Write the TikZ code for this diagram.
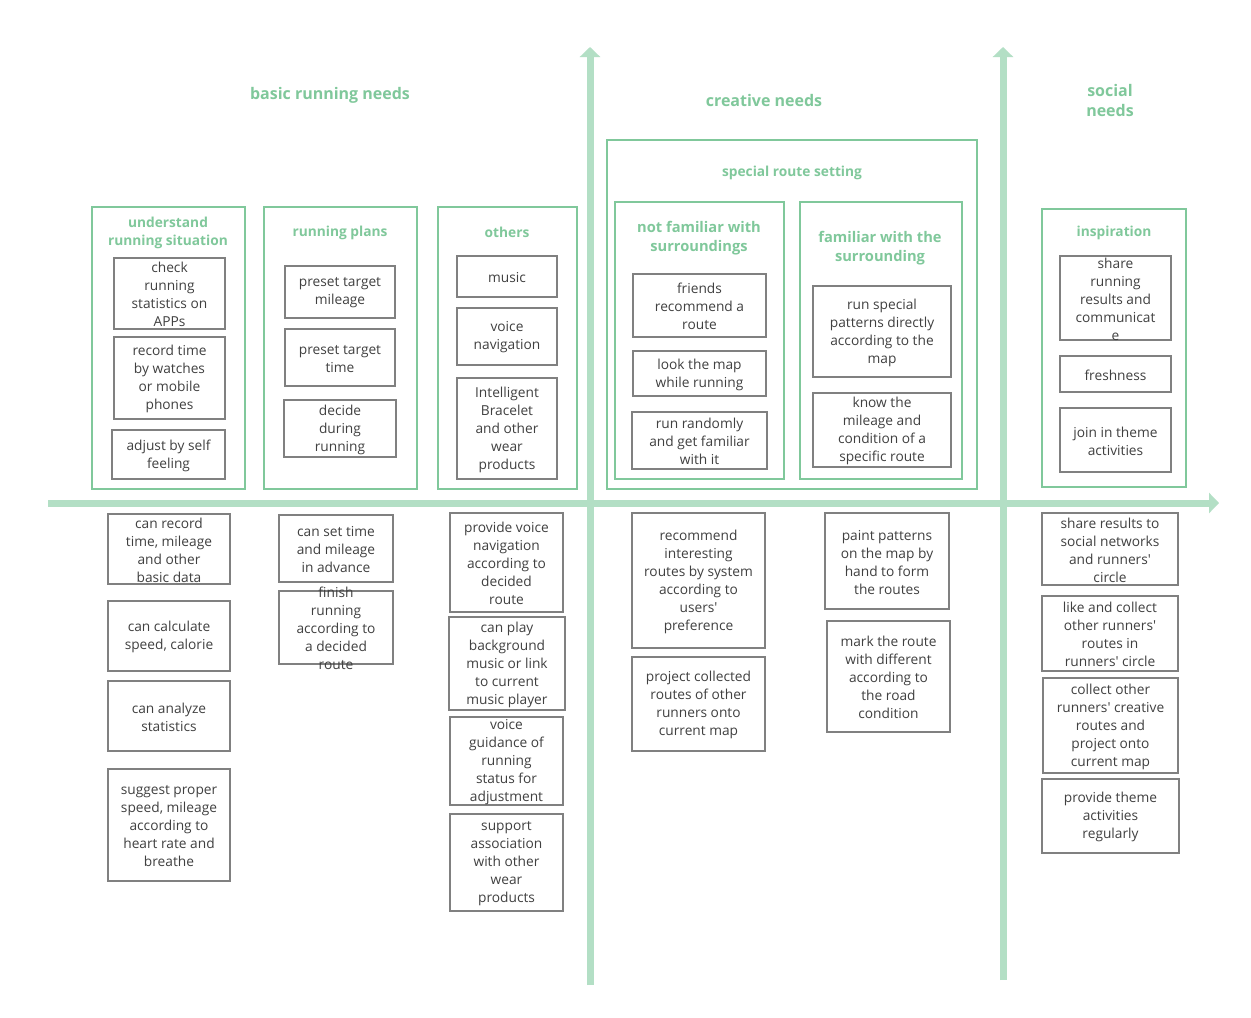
\documentclass[tikz,border=0pt]{standalone}
\usepackage{fontspec}
\setmainfont{Open Sans}
\usetikzlibrary{arrows.meta}
\definecolor{axisgreen}{RGB}{179,223,197}
\definecolor{titlegreen}{RGB}{128,200,155}
\definecolor{boxgreen}{RGB}{128,200,155}
\definecolor{boxgray}{RGB}{128,128,128}
\definecolor{txtgray}{RGB}{64,64,64}
\newcommand{\qs}{\textquotesingle}
\tikzset{
  axisline/.style={draw=axisgreen,line width=5.25pt,-{Triangle[width=15pt,length=7.5pt]}},
  grpbox/.style={draw=boxgreen,line width=1.4pt,inner sep=0pt,outer sep=0pt},
  graybox/.style={draw=boxgray,line width=1.1pt,inner sep=0pt,outer sep=0pt,fill=white},
  bodytxt/.style={text=txtgray,align=center,inner sep=0pt,yshift=-0.8pt,font=\fontsize{10.3}{13.5}\selectfont},
  sectitle/.style={text=titlegreen,align=center,inner sep=0pt,yshift=-1.2pt,font=\fontsize{12}{15}\selectfont\bfseries},
  grptitle/.style={text=titlegreen,align=center,inner sep=0pt,yshift=-1.2pt,font=\fontsize{10.3}{13.5}\selectfont\bfseries},
  subtitle/.style={text=titlegreen,align=center,inner sep=0pt,yshift=-1.2pt,font=\fontsize{11}{14.2}\selectfont\bfseries}
}
\newcommand{\gb}[6]{\node[graybox,minimum width={(#4-#2)*0.75pt},minimum height={(#5-#3)*0.75pt}] (#1) at ({(#2+#4)/2},{(#3+#5)/2}) {};
  \node[bodytxt] (#1-t) at (#1.center) {#6};}
\newcommand{\grp}[5]{\node[grpbox,minimum width={(#4-#2)*0.75pt},minimum height={(#5-#3)*0.75pt}] (#1) at ({(#2+#4)/2},{(#3+#5)/2}) {};}
\begin{document}
\begin{tikzpicture}[x=0.75pt,y=-0.75pt]
\useasboundingbox[fill=white] (0,0) rectangle (1251,1017);
% axes
\coordinate (hx0) at (48,503);
\coordinate (hx1) at (1219,503);
\coordinate (va0) at (590,985);
\coordinate (va1) at (590,47);
\coordinate (vb0) at (1003,980);
\coordinate (vb1) at (1003,47);
\draw[axisline] (hx0) -- (hx1);
\draw[axisline] (va0) -- (va1);
\draw[axisline] (vb0) -- (vb1);
% section titles
\node[sectitle] (t-basic) at (330,94) {basic running needs};
\node[sectitle] (t-creative) at (764,99) {creative needs};
\node[sectitle] (t-social) at (1110,99) {social\\needs};
% group boxes
\grp{G1}{92}{207}{245}{489}
\grp{G2}{264}{207}{417}{489}
\grp{G3}{438}{207}{577}{489}
\grp{G4}{607}{140}{977}{489}
\grp{G5}{615}{202}{784}{479}
\grp{G6}{800}{202}{962}{479}
\grp{G7}{1042}{209}{1186}{487}
\node[grptitle] (G1-t) at (168,231) {understand\\running situation};
\node[grptitle] (G2-t) at (340,231) {running plans};
\node[grptitle] (G3-t) at (507,231) {others};
\node[grptitle] (G4-t) at (792,171) {special route setting};
\node[subtitle] (G5-t) at (699,236.5) {not familiar with\\surroundings};
\node[subtitle] (G6-t) at (880,246.5) {familiar with the\\surrounding};
\node[grptitle] (G7-t) at (1114,231) {inspiration};
% top boxes
\gb{u1}{114}{258}{225}{329}{check\\running\\statistics on\\APPs}
\gb{u2}{114}{337}{225}{419}{record time\\by watches\\or mobile\\phones}
\gb{u3}{112}{430}{225}{479}{adjust by self\\feeling}
\gb{p1}{285}{266}{395}{318}{preset target\\mileage}
\gb{p2}{285}{329}{395}{386}{preset target\\time}
\gb{p3}{284}{400}{396}{457}{decide\\during\\running}
\gb{o1}{457}{256}{557}{297}{music}
\gb{o2}{457}{308}{557}{365}{voice\\navigation}
\gb{o3}{457}{378}{557}{479}{Intelligent\\Bracelet\\and other\\wear\\products}
\gb{n1}{633}{274}{766}{337}{friends\\recommend a\\route}
\gb{n2}{633}{351}{766}{396}{look the map\\while running}
\gb{n3}{632}{412}{767}{469}{run randomly\\and get familiar\\with it}
\gb{f1}{813}{286}{951}{377}{run special\\patterns directly\\according to the\\map}
\gb{f2}{813}{393}{951}{467}{know the\\mileage and\\condition of a\\specific route}
\gb{i1}{1060}{256}{1171}{340}{share\\running\\results and\\communicat\\e}
\gb{i2}{1060}{356}{1171}{392}{freshness}
\gb{i3}{1060}{408}{1171}{472}{join in theme\\activities}
% bottom boxes
\gb{b1}{108}{514}{230}{584}{can record\\time, mileage\\and other\\basic data}
\gb{b2}{108}{601}{230}{671}{can calculate\\speed, calorie}
\gb{b3}{108}{681}{230}{751}{can analyze\\statistics}
\gb{b4}{108}{769}{230}{881}{suggest proper\\speed, mileage\\according to\\heart rate and\\breathe}
\gb{c1}{279}{515}{393}{582}{can set time\\and mileage\\in advance}
\gb{c2}{279}{591}{393}{664}{finish\\running\\according to\\a decided\\route}
\gb{d1}{450}{513}{563}{612}{provide voice\\navigation\\according to\\decided\\route}
\gb{d2}{449}{617}{565}{710}{can play\\background\\music or link\\to current\\music player}
\gb{d3}{450}{717}{563}{805}{voice\\guidance of\\running\\status for\\adjustment}
\gb{d4}{450}{814}{563}{911}{support\\association\\with other\\wear\\products}
\gb{e1}{632}{513}{765}{648}{recommend\\interesting\\routes by system\\according to\\users\qs\\preference}
\gb{e2}{632}{657}{765}{751}{project collected\\routes of other\\runners onto\\current map}
\gb{g1}{825}{513}{949}{609}{paint patterns\\on the map by\\hand to form\\the routes}
\gb{g2}{827}{621}{950}{732}{mark the route\\with different\\according to\\the road\\condition}
\gb{s1}{1042}{513}{1178}{585}{share results to\\social networks\\and runners\qs\\circle}
\gb{s2}{1042}{596}{1178}{671}{like and collect\\other runners\qs\\routes in\\runners\qs{} circle}
\gb{s3}{1043}{678}{1178}{773}{collect other\\runners\qs{} creative\\routes and\\project onto\\current map}
\gb{s4}{1042}{779}{1179}{853}{provide theme\\activities\\regularly}
\end{tikzpicture}
\end{document}
